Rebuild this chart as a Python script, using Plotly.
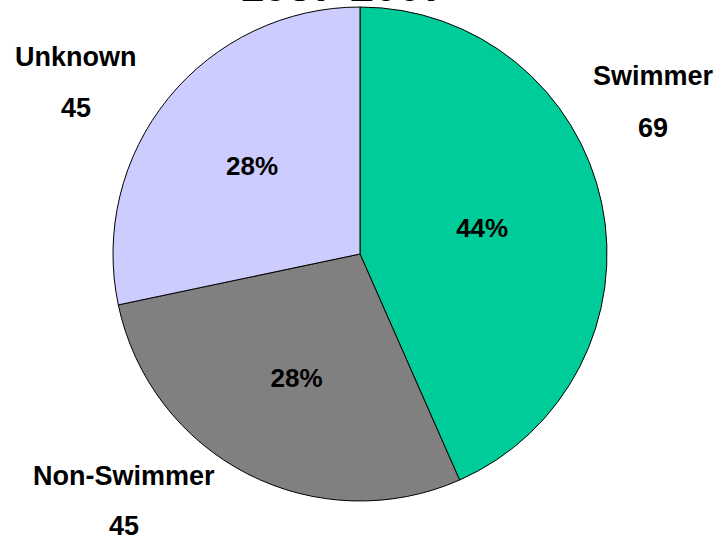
import plotly.graph_objects as go

categories = ["Swimmer", "Non-Swimmer", "Unknown"]
values = [69, 45, 45]
pct_labels = ["44%", "28%", "28%"]
colors = ["#00CC99", "#808080", "#CCCCFF"]
title_text = "1987-2007"

W, H = 716, 539
FONT = "Liberation Sans, Arial"

def px(x):
    return x / W

def py(y):
    return 1 - y / H

fig = go.Figure(go.Pie(
    labels=categories,
    values=values,
    text=pct_labels,
    texttemplate="<b>%{text}</b>",
    textposition="inside",
    insidetextorientation="horizontal",
    insidetextfont=dict(family=FONT, size=26, color="black"),
    marker=dict(colors=colors, line=dict(color="black", width=1)),
    sort=False,
    direction="clockwise",
    rotation=0,
    showlegend=False,
    hoverinfo="label+value+percent",
    domain=dict(x=[px(113), px(607)], y=[py(501), py(7)]),
))

# outside label positions (centers in px)
name_pos = [(653, 76), (124, 476), (76, 57)]
val_pos = [(653, 128), (124, 526), (76, 108)]

annotations = []
for cat, v, (nx, ny), (vx, vy) in zip(categories, values, name_pos, val_pos):
    annotations.append(dict(text=f"<b>{cat}</b>", x=px(nx), y=py(ny), xref="paper", yref="paper",
                            showarrow=False, xanchor="center", yanchor="middle",
                            font=dict(family=FONT, size=27, color="black")))
    annotations.append(dict(text=f"<b>{v}</b>", x=px(vx), y=py(vy), xref="paper", yref="paper",
                            showarrow=False, xanchor="center", yanchor="middle",
                            font=dict(family=FONT, size=27, color="black")))

annotations.append(dict(text=f"<b>{title_text}</b>", x=px(343), y=py(12), xref="paper", yref="paper",
                        showarrow=False, xanchor="center", yanchor="bottom",
                        font=dict(family=FONT, size=43, color="black")))

fig.update_layout(
    width=W, height=H,
    margin=dict(l=0, r=0, t=0, b=0),
    paper_bgcolor="white",
    plot_bgcolor="white",
    annotations=annotations,
    font=dict(family=FONT, color="black"),
)

fig.write_html("out.html", config={"displayModeBar": False},
               post_script="document.body.style.margin='0';document.body.style.overflow='hidden';")
